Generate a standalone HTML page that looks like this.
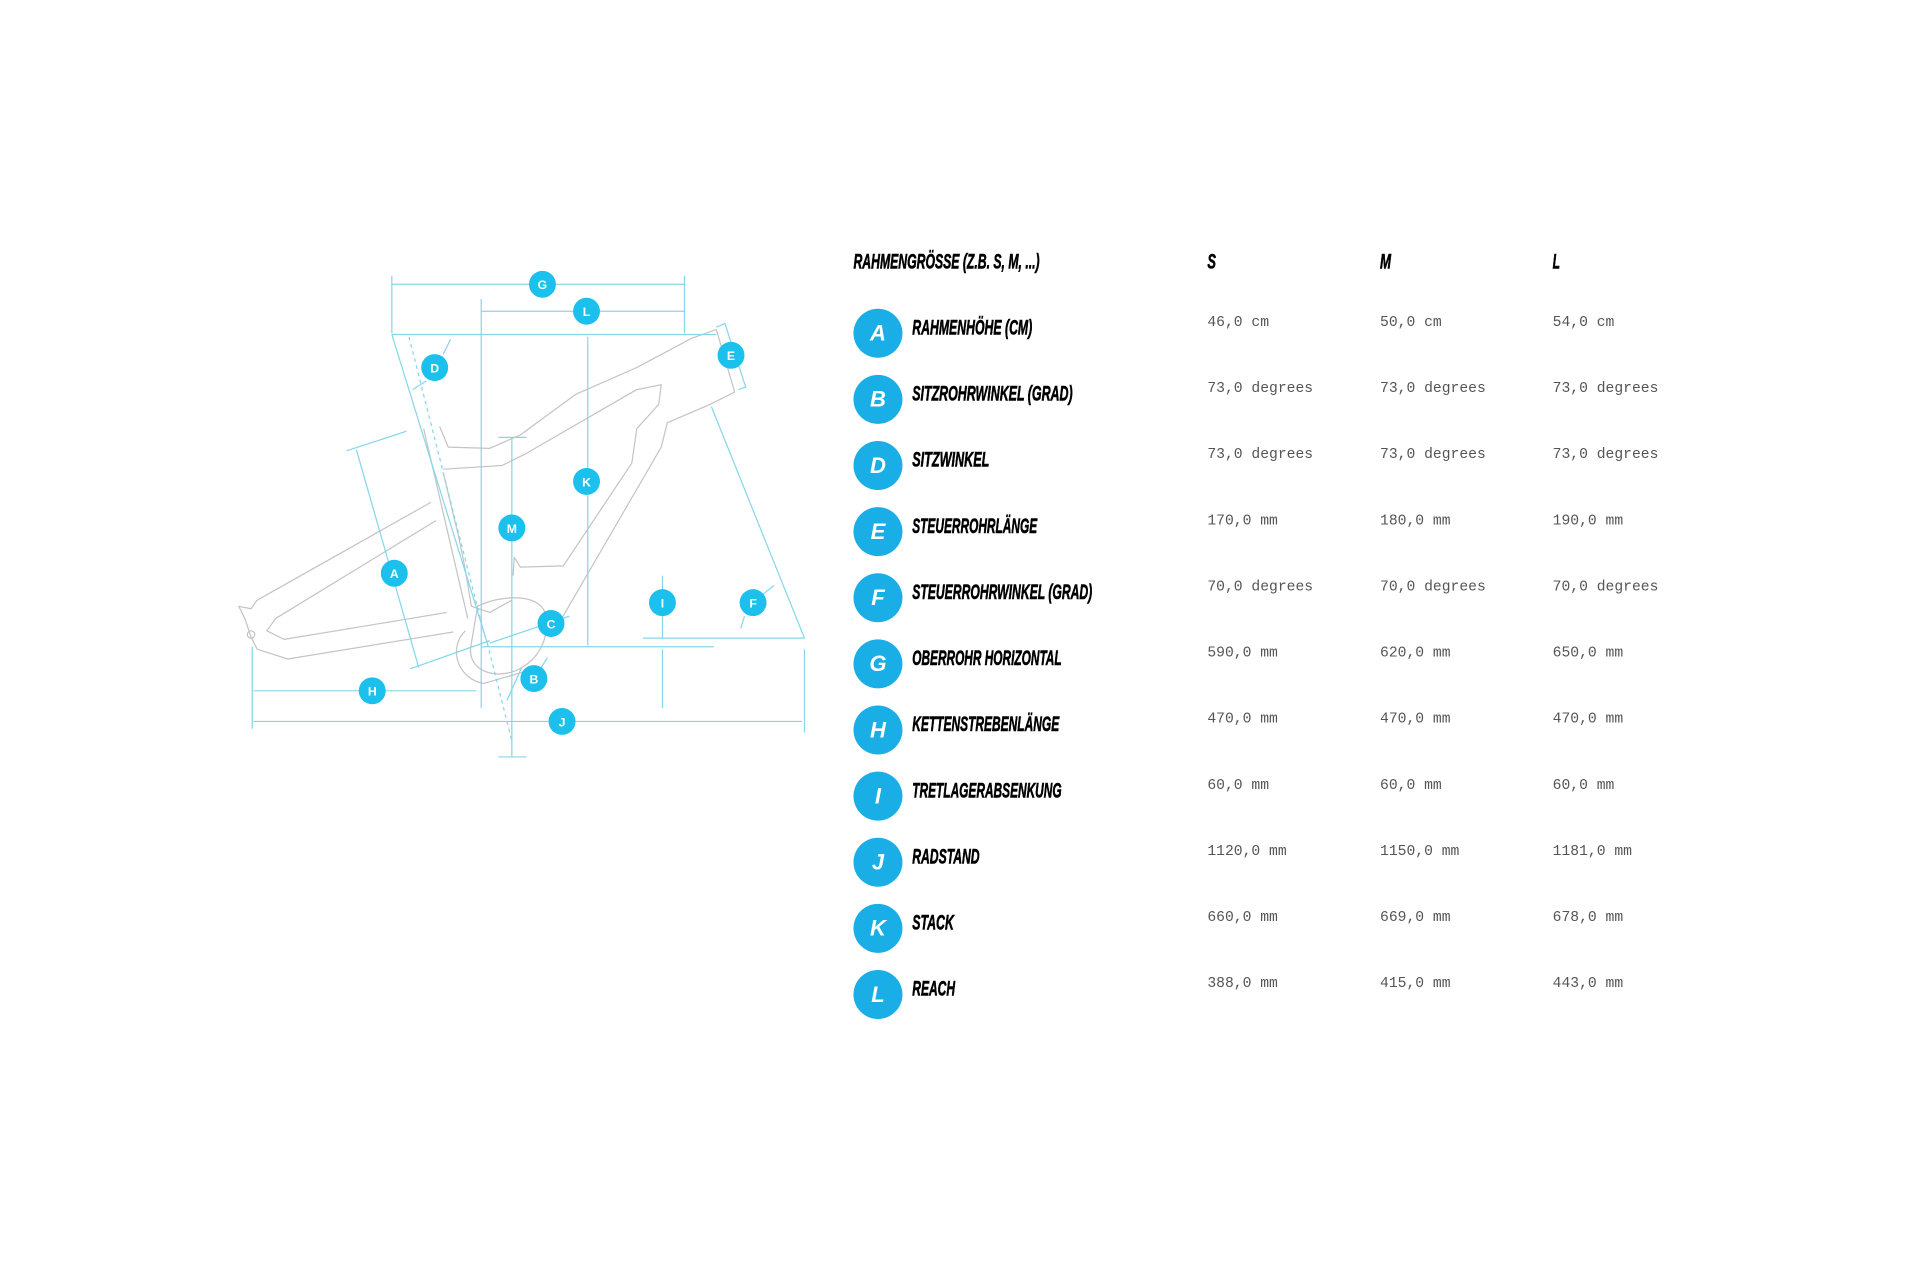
<!DOCTYPE html>
<html><head><meta charset="utf-8"><style>
html,body{margin:0;padding:0;background:#fff;}
svg{display:block;}
.lab{font-family:"Liberation Sans",sans-serif;font-weight:bold;font-style:italic;font-size:17px;fill:#000;stroke:#000;stroke-width:0.5;}
.val{font-family:"Liberation Mono",monospace;font-size:12px;fill:#555;}
.cl{font-family:"Liberation Sans",sans-serif;font-weight:bold;font-style:italic;font-size:18px;fill:#fff;}
.dl{font-family:"Liberation Sans",sans-serif;font-weight:bold;font-size:10px;fill:#fff;}
</style></head><body>
<svg width="1920" height="1280" viewBox="0 0 1568 1045" xmlns="http://www.w3.org/2000/svg">
<rect width="1568" height="1045" fill="#fff"/>
<g fill="none" stroke="#c4c4c4" stroke-width="1" stroke-linejoin="round">
<path d="M346,350 L382,505"/>
<path d="M359,348 L366,365 L400,366 L425,355 L470,322 L520,300 L565,276 L585,269 L600,320 L580,330 L545,345 L540,365 L450,520"/>
<path d="M362,383 L410,380 L430,370 L520,318 L540,314 L538,330 L520,350 L516,378 L460,462 L425,463 L420,455 L419,470"/>
<path d="M362,386 L375,440 L380,465 L385,495 L400,500 L418,490"/>
<path d="M352,410 L210,490 L205,497 L195,495 L200,505 L205,520"/>
<path d="M356,425 L225,505 L218,515 L232,522 L365,500"/>
<path d="M205,520 L210,530 L235,538 L370,516"/>
<path d="M390,495 C410,485 440,485 445,500 C450,520 440,540 420,548 C400,555 380,545 385,525 Z"/>
<path d="M380,515 C365,530 375,555 395,558 L440,545"/>
<circle cx="205" cy="518" r="3"/>
</g>
<g fill="none" stroke="#86d6ea" stroke-width="1">
<path d="M320,232 H559 M320,225 V272 M559,225 V272"/>
<path d="M393,254 H559 M393,244 V578"/>
<path d="M320,273 H585"/>
<path d="M320,273 L398,525"/>
<path d="M398,525 L418,605" stroke-dasharray="3,3"/>
<path d="M334,275 L396,520" stroke-dasharray="3,3"/>
<path d="M362,289 L368,277 M348,311 L337,318"/>
<path d="M585,267 L592,264 L609,316 L603,318"/>
<path d="M581,332 L657,521 M525,521 H657"/>
<path d="M622,486 L632,478 M608,503 L605,513"/>
<path d="M541,470 V521 M541,530 V578 M393,528 H583"/>
<path d="M480,275 V527"/>
<path d="M418,357 V618 M407,357 H430 M407,618 H430"/>
<path d="M291,367 L342,545 M283,368 L332,352 M335,546 L400,523"/>
<path d="M400,525 L465,503"/>
<path d="M426,545 L414,572 M447,537 L442,545"/>
<path d="M207,564 H389 M206,528 V595"/>
<path d="M207,589 H655 M657,530 V598"/>
</g>
<g fill="#1cc0ec">
<circle cx="443" cy="232" r="11"/><circle cx="479" cy="254" r="11"/>
<circle cx="355" cy="300" r="11"/><circle cx="597" cy="290" r="11"/>
<circle cx="615" cy="492" r="11"/><circle cx="541" cy="492" r="11"/>
<circle cx="479" cy="393" r="11"/><circle cx="418" cy="431" r="11"/>
<circle cx="322" cy="468" r="11"/><circle cx="450" cy="509" r="11"/>
<circle cx="436" cy="554" r="11"/><circle cx="304" cy="564" r="11"/>
<circle cx="459" cy="589" r="11"/>
</g>
<g class="dl" text-anchor="middle">
<text x="443" y="236">G</text><text x="479" y="258">L</text>
<text x="355" y="304">D</text><text x="597" y="294">E</text>
<text x="615" y="496">F</text><text x="541" y="496">I</text>
<text x="479" y="397">K</text><text x="418" y="435">M</text>
<text x="322" y="472">A</text><text x="450" y="513">C</text>
<text x="436" y="558">B</text><text x="304" y="568">H</text>
<text x="459" y="593">J</text>
</g>
<g class="lab">
<text x="697" y="219" textLength="152" lengthAdjust="spacingAndGlyphs">RAHMENGRÖSSE (Z.B. S, M, ...)</text>
<text x="986" y="219" textLength="7" lengthAdjust="spacingAndGlyphs">S</text><text x="1127" y="219" textLength="9" lengthAdjust="spacingAndGlyphs">M</text><text x="1268" y="219" textLength="6" lengthAdjust="spacingAndGlyphs">L</text>
<text x="745" y="273" textLength="98" lengthAdjust="spacingAndGlyphs">RAHMENHÖHE (CM)</text>
<text x="745" y="327" textLength="131" lengthAdjust="spacingAndGlyphs">SITZROHRWINKEL (GRAD)</text>
<text x="745" y="381" textLength="63" lengthAdjust="spacingAndGlyphs">SITZWINKEL</text>
<text x="745" y="435" textLength="102" lengthAdjust="spacingAndGlyphs">STEUERROHRLÄNGE</text>
<text x="745" y="489" textLength="147" lengthAdjust="spacingAndGlyphs">STEUERROHRWINKEL (GRAD)</text>
<text x="745" y="543" textLength="122" lengthAdjust="spacingAndGlyphs">OBERROHR HORIZONTAL</text>
<text x="745" y="597" textLength="120" lengthAdjust="spacingAndGlyphs">KETTENSTREBENLÄNGE</text>
<text x="745" y="651" textLength="122" lengthAdjust="spacingAndGlyphs">TRETLAGERABSENKUNG</text>
<text x="745" y="705" textLength="55" lengthAdjust="spacingAndGlyphs">RADSTAND</text>
<text x="745" y="759" textLength="34" lengthAdjust="spacingAndGlyphs">STACK</text>
<text x="745" y="813" textLength="35" lengthAdjust="spacingAndGlyphs">REACH</text>
</g>
<g fill="#1aaee6">
<circle cx="717" cy="272" r="20"/><circle cx="717" cy="326" r="20"/><circle cx="717" cy="380" r="20"/>
<circle cx="717" cy="434" r="20"/><circle cx="717" cy="488" r="20"/><circle cx="717" cy="542" r="20"/>
<circle cx="717" cy="596" r="20"/><circle cx="717" cy="650" r="20"/><circle cx="717" cy="704" r="20"/>
<circle cx="717" cy="758" r="20"/><circle cx="717" cy="812" r="20"/>
</g>
<g class="cl" text-anchor="middle">
<text x="717" y="278">A</text><text x="717" y="332">B</text><text x="717" y="386">D</text>
<text x="717" y="440">E</text><text x="717" y="494">F</text><text x="717" y="548">G</text>
<text x="717" y="602">H</text><text x="717" y="656">I</text><text x="717" y="710">J</text>
<text x="717" y="764">K</text><text x="717" y="818">L</text>
</g>
<g class="val">
<text x="986" y="266">46,0 cm</text><text x="1127" y="266">50,0 cm</text><text x="1268" y="266">54,0 cm</text>
<text x="986" y="320">73,0 degrees</text><text x="1127" y="320">73,0 degrees</text><text x="1268" y="320">73,0 degrees</text>
<text x="986" y="374">73,0 degrees</text><text x="1127" y="374">73,0 degrees</text><text x="1268" y="374">73,0 degrees</text>
<text x="986" y="428">170,0 mm</text><text x="1127" y="428">180,0 mm</text><text x="1268" y="428">190,0 mm</text>
<text x="986" y="482">70,0 degrees</text><text x="1127" y="482">70,0 degrees</text><text x="1268" y="482">70,0 degrees</text>
<text x="986" y="536">590,0 mm</text><text x="1127" y="536">620,0 mm</text><text x="1268" y="536">650,0 mm</text>
<text x="986" y="590">470,0 mm</text><text x="1127" y="590">470,0 mm</text><text x="1268" y="590">470,0 mm</text>
<text x="986" y="644">60,0 mm</text><text x="1127" y="644">60,0 mm</text><text x="1268" y="644">60,0 mm</text>
<text x="986" y="698">1120,0 mm</text><text x="1127" y="698">1150,0 mm</text><text x="1268" y="698">1181,0 mm</text>
<text x="986" y="752">660,0 mm</text><text x="1127" y="752">669,0 mm</text><text x="1268" y="752">678,0 mm</text>
<text x="986" y="806">388,0 mm</text><text x="1127" y="806">415,0 mm</text><text x="1268" y="806">443,0 mm</text>
</g>
</svg>
</body></html>
